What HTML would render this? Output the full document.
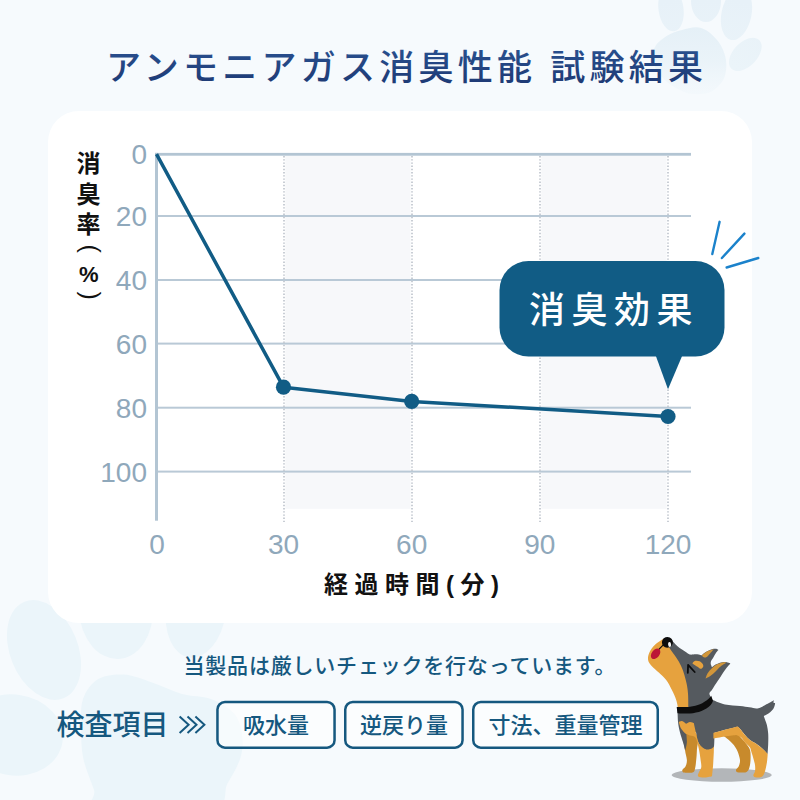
<!DOCTYPE html>
<html><head><meta charset="utf-8"><title>chart</title>
<style>html,body{margin:0;padding:0;background:#f6fafd;}body{width:800px;height:800px;overflow:hidden;font-family:"Liberation Sans",sans-serif;}svg{display:block}svg text{font-family:"Liberation Sans","Noto Sans CJK JP",sans-serif;}</style>
</head><body>
<svg width="800" height="800" viewBox="0 0 800 800">
<rect width="800" height="800" fill="#f6fafd"/>
<defs>
<linearGradient id="pg1" gradientUnits="userSpaceOnUse" x1="0" y1="28" x2="0" y2="96"><stop offset="0" stop-color="#e5f0f7"/><stop offset="0.5" stop-color="#e8f2f8" stop-opacity="0.85"/><stop offset="1" stop-color="#edf5fa" stop-opacity="0.3"/></linearGradient>
<linearGradient id="pg2" gradientUnits="userSpaceOnUse" x1="0" y1="0" x2="0" y2="72"><stop offset="0" stop-color="#e7f1f8"/><stop offset="1" stop-color="#ebf4f9"/></linearGradient>
</defs>
<g fill="url(#pg2)"><ellipse cx="671" cy="9" rx="12.5" ry="22.5" transform="rotate(-8 671 9)"/><ellipse cx="706" cy="1" rx="15" ry="21"/><ellipse cx="736.5" cy="14" rx="15" ry="26.5" transform="rotate(12 736.5 14)"/><ellipse cx="745.3" cy="54.4" rx="12" ry="20" transform="rotate(44 745.3 54.4)"/></g><path fill="url(#pg1)" d="M701.2 28.0C695.2 26.1 687.6 28.7 682.0 30.0C676.4 31.3 671.9 32.9 667.5 35.6C663.1 38.3 657.9 42.3 655.5 46.0C653.1 49.7 653.0 54.0 653.2 58.0C653.4 62.0 654.1 65.9 656.5 70.0C658.9 74.1 663.6 79.2 667.5 82.5C671.4 85.8 675.9 88.1 680.0 90.0C684.1 91.9 686.8 93.7 691.9 94.0C697.0 94.3 705.3 94.5 710.6 92.0C715.9 89.5 721.2 84.1 723.8 78.8C726.3 73.4 726.9 66.2 726.0 60.0C725.1 53.8 722.2 46.6 718.1 41.2C714.0 35.9 707.3 29.9 701.2 28.0Z"/>
<g fill="#ebf5fa"><ellipse cx="44" cy="650" rx="34" ry="52" transform="rotate(-22 44 650)"/><ellipse cx="116" cy="609" rx="37" ry="50" transform="rotate(-3 116 609)"/><ellipse cx="196" cy="610" rx="30" ry="48" transform="rotate(8 196 610)"/><ellipse cx="14" cy="735" rx="49" ry="40.5" transform="rotate(8 14 735)"/><path d="M81.2 725.0C81.2 715.3 80.3 706.6 83.0 699.0C85.7 691.4 90.8 683.6 97.5 679.5C104.2 675.4 114.3 674.1 123.5 674.6C132.7 675.1 143.0 679.5 152.8 682.8C162.5 686.0 172.3 691.3 182.0 694.0C191.7 696.7 202.3 695.7 211.0 699.0C219.7 702.3 228.8 707.6 234.0 713.6C239.2 719.6 240.9 727.4 242.0 734.8C243.1 742.1 242.9 749.4 240.5 757.5C238.1 765.6 232.6 774.8 227.5 783.5C222.4 792.2 231.2 805.6 210.0 810.0C188.8 814.4 119.3 813.3 100.0 810.0C80.7 806.7 96.8 798.8 94.0 790.0C91.2 781.2 85.1 767.8 83.0 757.0C80.9 746.2 81.2 734.7 81.2 725.0Z"/></g>
<defs><linearGradient id="tg" gradientUnits="userSpaceOnUse" x1="0" y1="48" x2="0" y2="84"><stop offset="0" stop-color="#29508f"/><stop offset="1" stop-color="#1e3a75"/></linearGradient></defs>
<text x="106" y="79.5" font-size="35" font-weight="500" fill="url(#tg)" textLength="597" lengthAdjust="spacing">アンモニアガス消臭性能 試験結果</text>
<rect x="48" y="111" width="704" height="512" rx="31" fill="#fff"/>
<rect x="285.3" y="155" width="125.3" height="353.8" fill="#f7f8fa"/>
<rect x="541.3" y="155" width="125.3" height="353.8" fill="#f7f8fa"/>
<rect x="156" y="215.0" width="535" height="2" fill="#b9c9d6"/>
<rect x="156" y="279.0" width="535" height="2" fill="#b9c9d6"/>
<rect x="156" y="342.6" width="535" height="2" fill="#b9c9d6"/>
<rect x="156" y="406.7" width="535" height="2" fill="#b9c9d6"/>
<rect x="156" y="470.6" width="535" height="2" fill="#b9c9d6"/>
<rect x="155" y="152.9" width="536" height="2.8" fill="#b3c5d3"/>
<rect x="155" y="152.9" width="3" height="367.8" fill="#b3c5d3"/>
<line x1="284" y1="156" x2="284" y2="522" stroke="#c9ced5" stroke-width="2" stroke-dasharray="1.4 1.8"/>
<line x1="412" y1="156" x2="412" y2="522" stroke="#c9ced5" stroke-width="2" stroke-dasharray="1.4 1.8"/>
<line x1="540" y1="156" x2="540" y2="522" stroke="#c9ced5" stroke-width="2" stroke-dasharray="1.4 1.8"/>
<line x1="668" y1="156" x2="668" y2="522" stroke="#c9ced5" stroke-width="2" stroke-dasharray="1.4 1.8"/>
<g font-size="28" fill="#8fa8bb" text-anchor="end">
<text x="147" y="164.3">0</text>
<text x="147" y="226.1">20</text>
<text x="147" y="290.1">40</text>
<text x="147" y="353.7">60</text>
<text x="147" y="417.8">80</text>
<text x="147" y="481.7">100</text>
</g>
<g font-size="28" fill="#8fa8bb" text-anchor="middle">
<text x="157" y="554.2">0</text>
<text x="283.5" y="554.2">30</text>
<text x="411.7" y="554.2">60</text>
<text x="539.8" y="554.2">90</text>
<text x="668" y="554.2">120</text>
</g>
<g font-size="24" font-weight="bold" fill="#111" text-anchor="middle">
<text x="88.5" y="172.2">消</text>
<text x="88.5" y="202.5">臭</text>
<text x="88.5" y="233.3">率</text>
</g>
<text transform="translate(81.8,244.5) rotate(90)" font-size="25" fill="#111">(</text>
<text x="88.7" y="281.8" font-size="22" font-weight="bold" fill="#111" text-anchor="middle">%</text>
<text transform="translate(81.8,291.5) rotate(90)" font-size="25" fill="#111">)</text>
<text x="324" y="593" font-size="24" font-weight="bold" fill="#111" textLength="175" lengthAdjust="spacing">経過時間(分)</text>
<polyline points="156.5,154.2 283.5,387.2 411.7,401.4 668,416.5" fill="none" stroke="#115c85" stroke-width="3.5" stroke-linejoin="round"/>
<circle cx="283.5" cy="387.2" r="7.6" fill="#115c85"/>
<circle cx="411.7" cy="401.4" r="7.6" fill="#115c85"/>
<circle cx="668" cy="416.5" r="7.6" fill="#115c85"/>
<rect x="499.5" y="261" width="225" height="95.5" rx="29" fill="#115c85"/>
<path d="M655.5 355 L682.5 355 L668 389.2Z" fill="#115c85"/>
<text x="529" y="323" font-size="36" font-weight="500" fill="#fff" letter-spacing="6.5">消臭効果</text>
<g stroke="#1b82cb" stroke-width="2.4" stroke-linecap="round"><line x1="719.6" y1="221.8" x2="712.3" y2="254"/><line x1="744.4" y1="233.6" x2="721.9" y2="258"/><line x1="758.3" y1="258" x2="726.6" y2="267.5"/></g>
<text x="183.5" y="672.5" font-size="21" font-weight="500" fill="#15587f" textLength="432" lengthAdjust="spacing">当製品は厳しいチェックを行なっています。</text>
<text x="56.5" y="734.6" font-size="28" font-weight="500" fill="#15587f">検査項目</text>
<path d="M179.6 716.4 L188.6 724.7 L179.6 733M187.5 716.4 L196.5 724.7 L187.5 733M195.4 716.4 L204.4 724.7 L195.4 733" fill="none" stroke="#15587f" stroke-width="2" stroke-linecap="butt" stroke-linejoin="miter"/>
<rect x="217.45" y="702.05" width="117.1" height="45.6" rx="7.5" fill="#fff" fill-opacity="0.55" stroke="#15587f" stroke-width="2.5"/>
<text x="276" y="733" font-size="22" font-weight="500" fill="#15587f" text-anchor="middle">吸水量</text>
<rect x="345.25" y="702.05" width="117.3" height="45.6" rx="7.5" fill="#fff" fill-opacity="0.55" stroke="#15587f" stroke-width="2.5"/>
<text x="404" y="733" font-size="22" font-weight="500" fill="#15587f" text-anchor="middle">逆戻り量</text>
<rect x="473.25" y="702.05" width="184.5" height="45.6" rx="7.5" fill="#fff" fill-opacity="0.55" stroke="#15587f" stroke-width="2.5"/>
<text x="565.5" y="733" font-size="22" font-weight="500" fill="#15587f" text-anchor="middle">寸法、重量管理</text>
<g><ellipse cx="721.7" cy="775" rx="50" ry="6.8" fill="#b3b6b9"/>
<path d="M722.0 733.0C723.2 731.7 736.2 732.0 736.2 732.0C736.2 732.0 739.6 736.1 741.2 738.1C742.9 740.1 744.8 741.8 746.2 743.8C747.7 745.7 749.3 747.7 750.0 750.0C750.7 752.3 750.6 755.0 750.6 757.5C750.6 760.0 750.4 762.8 750.0 765.0C749.6 767.2 748.9 769.3 748.1 770.6C747.4 771.9 745.5 772.6 745.5 772.6C745.5 772.6 739.1 772.7 737.5 772.2C735.9 771.7 735.9 770.6 736.1 769.6C736.3 768.6 738.1 767.9 738.8 766.2C739.4 764.6 740.2 762.5 740.0 760.0C739.8 757.5 738.5 753.8 737.5 751.2C736.5 748.8 735.2 746.9 733.8 745.0C732.3 743.1 730.7 742.0 728.8 740.0C726.8 738.0 720.8 734.3 722.0 733.0Z" fill="#c88a2c"/>
<path d="M684.0 735.0C681.9 737.5 684.5 745.8 685.0 750.0C685.5 754.2 686.8 757.3 686.9 760.0C687.0 762.7 686.4 764.6 685.6 766.2C684.8 767.9 682.7 768.9 682.3 770.0C681.9 771.1 683.3 772.6 683.3 772.6C683.3 772.6 690.5 773.2 692.5 772.6C694.5 772.0 694.4 770.9 695.0 768.8C695.6 766.6 695.9 763.1 696.2 760.0C696.6 756.9 696.7 754.2 696.9 750.0C697.1 745.8 699.6 737.5 697.5 735.0C695.4 732.5 686.1 732.5 684.0 735.0Z" fill="#c88a2c"/>
<path d="M677.5 708.0C677.5 708.0 711.9 699.5 711.9 699.5C711.9 699.5 720.3 703.5 725.0 704.6C729.7 705.7 735.9 705.5 740.0 706.0C744.1 706.5 746.7 706.9 749.4 707.3C752.1 707.7 754.4 708.4 756.2 708.4C758.1 708.4 758.8 708.1 760.6 707.4C762.4 706.7 764.7 705.3 766.9 704.1C769.1 702.9 773.8 700.2 773.8 700.2C773.8 700.2 773.4 702.8 773.4 702.8C773.4 702.8 775.1 703.2 775.1 703.2C775.1 703.2 774.8 705.7 774.2 706.9C773.7 708.1 772.9 709.5 771.9 710.6C770.9 711.7 769.5 712.9 768.1 713.8C766.7 714.6 763.8 716.0 763.8 716.0C763.8 716.0 764.5 717.9 765.0 719.4C765.5 720.9 766.4 722.6 766.9 725.0C767.4 727.4 768.0 730.6 768.2 733.8C768.4 736.9 768.3 740.3 768.2 743.8C768.1 747.2 767.6 754.2 767.6 754.2C767.6 754.2 764.4 750.5 762.5 748.8C760.6 747.0 758.3 745.2 756.2 743.8C754.2 742.3 751.9 741.5 750.0 740.0C748.1 738.5 746.7 736.9 745.0 735.0C743.3 733.1 741.2 730.1 740.0 728.8C738.8 727.4 737.5 726.7 737.5 726.7C737.5 726.7 728.9 728.8 725.0 729.8C721.1 730.8 714.4 733.0 714.4 733.0C714.4 733.0 714.5 743.8 714.0 746.5C713.5 749.2 712.5 748.6 711.2 749.2C710.0 749.8 708.0 750.4 706.2 750.0C704.5 749.6 702.4 748.5 701.0 747.0C699.6 745.5 697.6 741.0 697.6 741.0C697.6 741.0 696.0 732.0 696.0 732.0C696.0 732.0 686.0 731.0 686.0 731.0C686.0 731.0 687.0 738.8 686.9 742.0C686.8 745.2 685.2 750.5 685.2 750.5C685.2 750.5 684.0 745.5 683.1 742.5C682.2 739.5 680.8 735.8 680.0 732.5C679.2 729.2 678.5 726.6 678.1 722.5C677.7 718.4 677.5 708.0 677.5 708.0Z" fill="#555a5f"/>
<path d="M713.4 732.9C713.4 732.9 721.0 730.9 725.0 729.8C729.0 728.7 737.7 726.5 737.7 726.5C737.7 726.5 738.8 727.3 740.0 728.8C741.2 730.2 743.3 733.1 745.0 735.0C746.7 736.9 748.1 738.5 750.0 740.0C751.9 741.5 754.2 742.3 756.2 743.8C758.3 745.2 760.6 747.1 762.5 748.8C764.4 750.4 767.7 753.9 767.7 753.9C767.7 753.9 767.4 759.6 766.9 762.5C766.4 765.4 765.8 768.9 765.0 771.2C764.2 773.6 763.8 775.3 762.3 776.4C760.8 777.5 757.8 777.7 756.2 777.6C754.8 777.5 753.5 776.7 753.3 775.6C753.1 774.5 754.7 773.0 755.0 771.2C755.3 769.5 755.3 767.3 755.0 765.0C754.7 762.7 753.7 759.8 753.1 757.5C752.5 755.2 751.8 752.9 751.2 751.2C750.7 749.6 751.0 749.0 750.0 747.5C749.0 746.0 746.5 744.2 745.0 742.5C743.5 740.8 742.7 738.8 741.2 737.5C739.8 736.2 736.2 735.0 736.2 735.0C736.2 735.0 728.8 735.8 725.0 736.4C721.2 737.0 713.4 738.4 713.4 738.4C713.4 738.4 713.4 732.9 713.4 732.9Z" fill="#e6a23e"/>
<path d="M678.8 721.9C678.8 721.9 680.8 720.7 682.0 721.0C683.2 721.3 686.2 723.8 686.2 723.8C686.2 723.8 688.7 722.1 690.0 722.0C691.3 721.9 693.8 723.1 693.8 723.1C693.8 723.1 694.9 728.2 695.6 731.2C696.3 734.3 697.2 738.8 698.1 741.2C699.0 743.8 699.9 744.9 701.2 746.2C702.6 747.6 704.6 749.0 706.2 749.4C707.9 749.8 710.0 749.2 711.2 748.8C712.5 748.3 713.8 746.5 713.8 746.5C713.8 746.5 713.9 749.4 713.8 752.5C713.6 755.6 713.4 761.0 713.1 765.0C712.8 769.0 712.0 776.2 712.0 776.2C712.0 776.2 707.3 777.4 705.0 777.5C702.7 777.6 699.3 777.4 698.3 776.6C697.3 775.8 698.3 774.0 698.8 772.5C699.2 771.0 700.9 769.6 701.2 767.5C701.6 765.4 701.0 763.1 700.6 760.0C700.2 756.9 699.6 752.5 698.8 748.8C697.9 745.0 697.1 740.0 695.6 737.8C694.1 735.6 691.7 736.2 690.0 735.5C688.3 734.8 685.6 733.8 685.6 733.8C685.6 733.8 682.4 730.7 681.2 728.8C680.1 726.8 678.8 721.9 678.8 721.9Z" fill="#e6a23e"/>
<path d="M671.0 639.2C671.0 639.2 675.0 644.1 677.5 646.2C680.0 648.4 684.2 650.9 686.2 652.3C688.3 653.7 688.5 654.3 690.0 654.6C691.5 654.9 693.8 654.3 695.2 654.3C696.7 654.3 697.7 654.4 698.8 654.6C699.8 654.8 701.4 655.6 701.4 655.6C701.4 655.6 704.0 653.2 705.8 652.1C707.5 651.0 710.1 649.8 711.9 649.3C713.6 648.8 715.2 648.7 716.2 648.8C717.3 648.9 718.4 650.0 718.4 650.0C718.4 650.0 717.0 651.4 716.2 652.5C715.5 653.6 714.5 655.4 713.6 656.9C712.7 658.4 711.5 660.0 711.0 661.2C710.5 662.5 710.8 664.2 710.8 664.2C710.8 664.2 711.9 667.2 711.9 667.2C711.9 667.2 714.5 665.0 716.2 664.2C718.0 663.4 720.5 662.5 722.4 662.2C724.3 661.9 726.3 662.2 727.6 662.4C728.9 662.6 730.3 663.4 730.3 663.4C730.3 663.4 729.4 664.5 728.5 665.6C727.6 666.7 726.2 668.4 725.0 670.0C723.8 671.6 722.7 673.5 721.5 675.2C720.3 677.0 719.2 678.8 718.0 680.5C716.8 682.2 715.5 684.1 714.5 685.8C713.5 687.4 712.8 688.8 711.9 690.1C711.0 691.4 709.3 692.2 709.4 693.8C709.5 695.4 712.3 699.5 712.3 699.5C712.3 699.5 705.7 706.4 700.0 708.0C694.3 709.6 678.0 709.0 678.0 709.0C678.0 709.0 681.0 698.2 680.0 690.0C679.0 681.8 674.3 667.5 672.0 660.0C669.7 652.5 666.2 648.5 666.0 645.0C665.8 641.5 671.0 639.2 671.0 639.2Z" fill="#555a5f"/>
<path d="M664.0 638.6C664.0 638.6 657.4 642.5 655.0 644.8C652.6 647.1 650.5 650.0 649.4 652.5C648.2 655.0 647.7 657.7 648.1 660.0C648.5 662.3 650.1 664.2 651.9 666.2C653.7 668.3 656.4 670.2 658.8 672.5C661.1 674.8 664.1 677.1 666.2 680.0C668.4 682.9 670.2 686.7 671.9 690.0C673.6 693.3 675.2 696.9 676.2 700.0C677.3 703.1 678.0 708.5 678.0 708.5C678.0 708.5 688.3 708.5 688.3 708.5C688.3 708.5 688.3 698.9 688.1 695.0C687.9 691.1 687.5 688.3 686.9 685.0C686.3 681.7 685.3 678.1 684.4 675.0C683.5 671.9 682.6 669.2 681.2 666.2C679.9 663.3 678.1 660.4 676.2 657.5C674.4 654.6 671.5 651.3 670.0 648.8C668.5 646.2 667.0 642.0 667.0 642.0C667.0 642.0 664.0 638.6 664.0 638.6Z" fill="#e6a23e"/>
<path d="M701.9 655.5C701.9 655.5 704.6 652.7 706.6 651.7C708.6 650.7 713.8 649.3 713.8 649.3C713.8 649.3 711.4 652.1 710.1 653.4C708.8 654.7 707.4 656.7 706.2 657.3C705.0 657.9 703.1 657.0 703.1 657.0C703.1 657.0 701.9 655.5 701.9 655.5Z" fill="#d1963a"/>
<path d="M705.6 678.6C705.6 678.6 706.5 675.2 707.5 673.5C708.5 671.8 710.3 669.8 711.9 668.2C713.5 666.7 715.1 665.3 717.1 664.3C719.1 663.3 722.1 662.5 723.7 662.2C725.3 662.0 726.5 662.8 726.5 662.8C726.5 662.8 722.4 665.0 720.6 666.4C718.8 667.8 717.5 669.6 715.8 671.2C714.1 672.8 712.3 674.6 710.6 675.8C708.9 677.0 705.6 678.6 705.6 678.6Z" fill="#d1963a"/>
<path d="M692.6 663.0C692.9 662.4 694.1 661.1 695.2 660.8C696.4 660.5 698.4 660.7 699.6 661.2C700.8 661.7 702.1 663.0 702.7 663.9C703.3 664.8 703.5 666.1 703.1 666.9C702.7 667.7 701.5 668.8 700.5 668.7C699.5 668.6 698.2 667.2 697.0 666.5C695.8 665.8 694.2 664.9 693.5 664.3C692.8 663.7 692.3 663.6 692.6 663.0Z" fill="#e6a23e"/>
<path d="M687.8 672.8 L688.1 664.9 L694.7 672" fill="none" stroke="#0d0d0d" stroke-width="1.8" stroke-linecap="round" stroke-linejoin="round"/>
<path d="M663.3 644.8 L658.6 649.6" stroke="#0d0d0d" stroke-width="1.2" stroke-linecap="round"/>
<ellipse cx="655.6" cy="653.8" rx="3.9" ry="5.9" transform="rotate(38 655.6 653.8)" fill="#bb1536"/>
<ellipse cx="667.4" cy="642.3" rx="5.5" ry="5.3" transform="rotate(-20 667.4 642.3)" fill="#0d0d0d"/>
<ellipse cx="669.6" cy="644.5" rx="1.5" ry="2.5" transform="rotate(-8 669.6 644.5)" fill="#f4f4f4"/>
<path d="M676.7 706.9C676.7 706.9 686.1 707.2 690.0 706.7C693.9 706.2 697.0 705.5 700.0 704.2C703.0 703.0 706.2 700.6 708.1 699.2C710.0 697.8 711.2 695.8 711.2 695.8C711.2 695.8 713.0 700.8 713.0 700.8C713.0 700.8 712.1 703.7 710.2 705.4C708.3 707.1 704.9 709.6 701.5 711.0C698.1 712.4 694.0 713.1 690.0 713.5C686.0 713.9 677.5 713.2 677.5 713.2C677.5 713.2 676.7 706.9 676.7 706.9Z" fill="#0d0d0d"/></g>
</svg>
</body></html>
